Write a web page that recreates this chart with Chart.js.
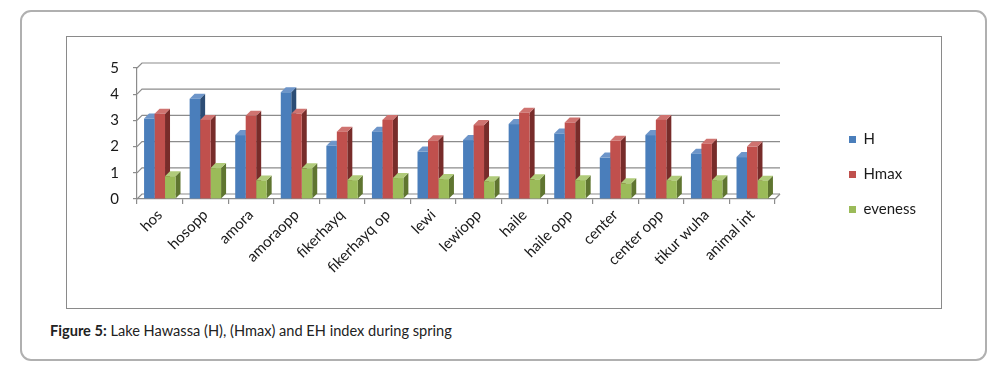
<!DOCTYPE html>
<html>
<head>
<meta charset="utf-8">
<script src="https://cdn.jsdelivr.net/npm/chart.js@4/dist/chart.umd.min.js"></script>
<style>
  html, body { margin: 0; padding: 0; background: #fff; width: 1005px; height: 381px; overflow: hidden; }
  #outer { position: absolute; left: 20px; top: 10px; width: 967px; height: 351px; box-sizing: border-box;
           border: 2px solid #b0b0b0; border-radius: 11px; }
  #inner { position: absolute; left: 66px; top: 36px; width: 876px; height: 273px; box-sizing: border-box;
           border: 1.5px solid #8a8a8a; }
  #wrap { position: absolute; left: 0; top: 0; width: 873px; height: 270px; }
  #caption { position: absolute; left: 50px; top: 322px; font-family: "Lato", sans-serif; font-size: 14.6px; color: #222; white-space: nowrap; }
  #caption b { font-weight: 700; }
</style>
</head>
<body>
<div id="outer"></div>
<div id="inner"><div id="wrap"><canvas id="c" width="873" height="270"></canvas></div></div>
<div id="caption"><b>Figure 5:</b> Lake Hawassa (H), (Hmax) and EH index during spring</div>
<script>
const categories = ["hos", "hosopp", "amora", "amoraopp", "fikerhayq", "fikerhayq op", "lewi", "lewiopp", "haile", "haile opp", "center", "center opp", "tikur wuha", "animal int"];
const seriesNames = ["H", "Hmax", "eveness"];
const H       = [3.07, 3.83, 2.44, 4.07, 2.03, 2.57, 1.81, 2.25, 2.86, 2.50, 1.58, 2.44, 1.73, 1.60];
const Hmax    = [3.25, 3.02, 3.18, 3.25, 2.57, 3.02, 2.24, 2.82, 3.29, 2.92, 2.22, 3.02, 2.11, 2.00];
const eveness = [0.87, 1.18, 0.71, 1.17, 0.72, 0.80, 0.76, 0.68, 0.75, 0.72, 0.60, 0.70, 0.72, 0.70];
const yTicks  = [0, 1, 2, 3, 4, 5];

const frontColors = ["#4a7ebb", "#c0504d", "#9bbb59"];
const sideColors  = ["#2c4d75", "#772c2a", "#5f7530"];
const topColors   = ["#6d95c9", "#cf7370", "#b0cb7a"];
const DEPTH = 5;

const bar3d = {
  id: 'bar3d',
  beforeDatasetsDraw(chart) {
    const ctx = chart.ctx;
    const ys = chart.scales.y;
    const area = chart.chartArea;
    ctx.save();
    ctx.strokeStyle = '#8c8c8c';
    ctx.lineWidth = 1.2;
    yTicks.forEach(v => {
      const y = ys.getPixelForValue(v);
      ctx.beginPath();
      ctx.moveTo(area.left, y);
      ctx.lineTo(area.left + DEPTH, y - DEPTH);
      ctx.lineTo(area.right + DEPTH, y - DEPTH);
      ctx.stroke();
    });
    const y0 = ys.getPixelForValue(0);
    ctx.beginPath();
    ctx.moveTo(area.right, y0);
    ctx.lineTo(area.right + DEPTH, y0 - DEPTH);
    ctx.stroke();
    const n = chart.data.labels.length;
    for (let i = 0; i < n; i++) {
      chart.data.datasets.forEach((ds, di) => {
        const el = chart.getDatasetMeta(di).data[i];
        if (!el) return;
        const {x, y, base, width} = el.getProps(['x', 'y', 'base', 'width'], true);
        const l = x - width / 2, r = x + width / 2;
        ctx.fillStyle = sideColors[di];
        ctx.beginPath();
        ctx.moveTo(r, y);
        ctx.lineTo(r + DEPTH, y - DEPTH);
        ctx.lineTo(r + DEPTH, base - DEPTH);
        ctx.lineTo(r, base);
        ctx.closePath();
        ctx.fill();
        ctx.fillStyle = topColors[di];
        ctx.beginPath();
        ctx.moveTo(l, y);
        ctx.lineTo(l + DEPTH, y - DEPTH);
        ctx.lineTo(r + DEPTH, y - DEPTH);
        ctx.lineTo(r, y);
        ctx.closePath();
        ctx.fill();
      });
    }
    ctx.restore();
  }
};

const seriesValues = [H, Hmax, eveness];
new Chart(document.getElementById('c'), {
  type: 'bar',
  data: {
    labels: categories,
    datasets: seriesNames.map((name, i) => ({
      label: name,
      data: seriesValues[i],
      backgroundColor: frontColors[i],
      borderWidth: 0,
      categoryPercentage: 0.69,
      barPercentage: 1.0
    }))
  },
  options: {
    responsive: false,
    animation: false,
    layout: { padding: { top: 5, right: 14, left: 0, bottom: 0 } },
    plugins: {
      legend: {
        position: 'right',
        labels: {
          boxWidth: 7, boxHeight: 7, padding: 20,
          color: '#1a1a1a',
          font: { family: 'Lato', size: 15 }
        }
      },
      tooltip: { enabled: false }
    },
    scales: {
      x: {
        offset: true,
        grid: { display: true, drawOnChartArea: false, offset: true, tickLength: 5, color: '#8c8c8c', lineWidth: 1.2 },
        border: { display: true, color: '#8c8c8c', width: 1.2 },
        ticks: { minRotation: 45, maxRotation: 45, autoSkip: false, color: '#1a1a1a', font: { family: 'Lato', size: 15 }, padding: 2 },
        afterFit(s) { s.height = 108; }
      },
      y: {
        min: 0, max: 5,
        afterBuildTicks(s) { s.ticks = yTicks.map(v => ({ value: v })); },
        grid: { display: true, drawOnChartArea: false, tickLength: 4, color: '#8c8c8c', lineWidth: 1.2 },
        border: { display: true, color: '#8c8c8c', width: 1.2 },
        ticks: { color: '#1a1a1a', font: { family: 'Lato', size: 15 }, padding: 14 },
        afterFit(s) { s.width = 70; }
      },
      topSpacer: {
        type: 'linear',
        axis: 'x',
        position: 'top',
        display: true,
        grid: { display: false },
        border: { display: false },
        ticks: { display: false },
        afterFit(s) { s.height = 26; }
      },
      spacer: {
        type: 'linear',
        axis: 'y',
        position: 'right',
        display: true,
        grid: { display: false },
        border: { display: false },
        ticks: { display: false },
        afterFit(s) { s.width = 54; }
      }
    }
  },
  plugins: [bar3d]
});
</script>
</body>
</html>
